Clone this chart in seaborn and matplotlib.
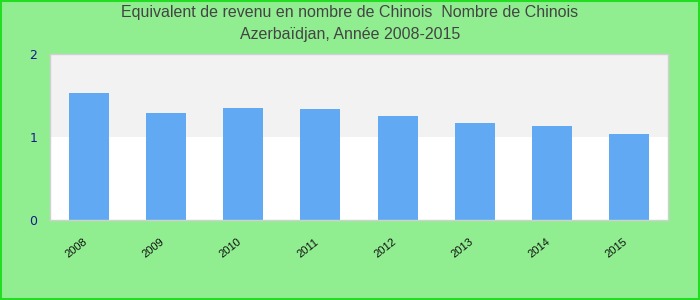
import matplotlib
matplotlib.use("Agg")
import matplotlib.pyplot as plt
import matplotlib.transforms as mtransforms
import seaborn as sns
import pandas as pd

years = ["2008", "2009", "2010", "2011", "2012", "2013", "2014", "2015"]
values = [1.53, 1.29, 1.35, 1.34, 1.25, 1.17, 1.13, 1.04]
y_ticks = [0, 1, 2]
title_lines = ["Equivalent de revenu en nombre de Chinois  Nombre de Chinois",
               "Azerbaïdjan, Année 2008-2015"]

sns.set_theme(style="white")
plt.rcParams["font.family"] = ["Liberation Sans", "DejaVu Sans"]

df = pd.DataFrame({"year": years, "value": values})

fig = plt.figure(figsize=(7, 3), dpi=100, facecolor="#90ee90")
ax = fig.add_axes([50 / 700, 80 / 300, 618 / 700, 166 / 300])
ax.set_facecolor("white")

# alternating horizontal bands
ax.axhspan(1, 2, color="#f2f2f2", zorder=0, linewidth=0)

sns.barplot(data=df, x="year", y="value", color="#62a9f4", saturation=1,
            width=0.52, linewidth=0, ax=ax, zorder=2)

ax.set_ylim(0, 2)
ax.set_xlim(-0.5, len(years) - 0.5)
ax.set_yticks(y_ticks)
ax.set_yticklabels([str(t) for t in y_ticks], color="#1a1a8c", fontsize=9,
                   family=["DejaVu Sans"])
ax.tick_params(axis="y", length=0, pad=9)
ax.tick_params(axis="x", length=0, pad=12)
shift = mtransforms.ScaledTranslation(-6 / 100, 0, fig.dpi_scale_trans)
for lbl in ax.get_xticklabels():
    lbl.set_rotation(38)
    lbl.set_fontsize(8)
    lbl.set_color("#111111")
    lbl.set_ha("right")
    lbl.set_rotation_mode("anchor")
    lbl.set_transform(lbl.get_transform() + shift)
ax.set_xlabel("")
ax.set_ylabel("")
for s in ax.spines.values():
    s.set_visible(True)
    s.set_color("#d0d0d0")
    s.set_linewidth(1)

fig.text(0.5, 1 - 13 / 300, title_lines[0], ha="center", va="center",
         fontsize=11.5, color="#444444")
fig.text(0.5, 1 - 35 / 300, title_lines[1], ha="center", va="center",
         fontsize=11.5, color="#444444")

# outer frame
fig.patches.append(plt.Rectangle((0.001, 0.002), 0.997, 0.995, transform=fig.transFigure,
                                 fill=False, edgecolor="#22dd22", linewidth=1.5))

fig.savefig("out.png", dpi=100, facecolor=fig.get_facecolor())
